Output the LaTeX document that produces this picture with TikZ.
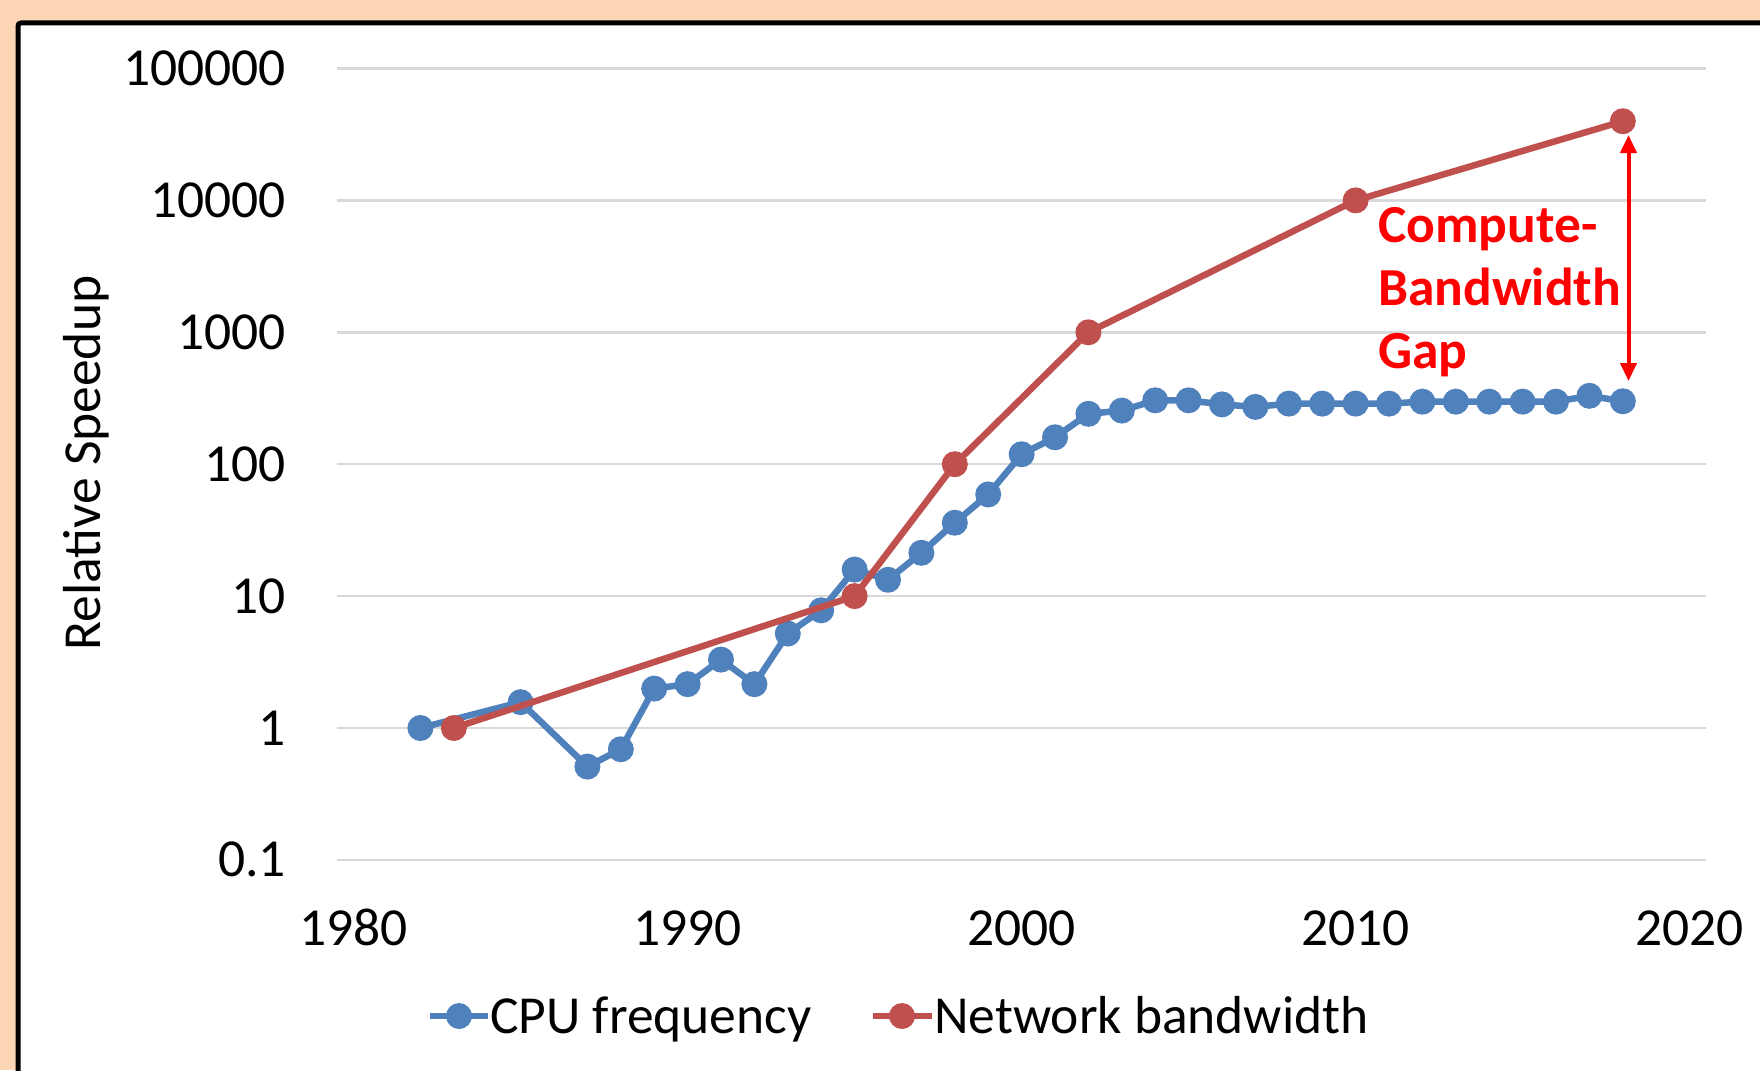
\documentclass[tikz,border=0pt]{standalone}
\usepackage{fontspec}
\setmainfont{Carlito}
\usetikzlibrary{arrows.meta}
\definecolor{peach}{HTML}{FCD5B4}
\definecolor{cpublue}{HTML}{4F81BD}
\definecolor{netred}{HTML}{C0504D}
\definecolor{gridgray}{HTML}{D9D9D9}
\begin{document}
\begin{tikzpicture}[x=1pt,y=-1pt,
  declare function={xx(\t)=353.6+33.4*(\t-1980); yy(\v)=728-131.9*log10(\v); ly(\l)=728-131.9*\l;},
  lbl/.style={font=\fontsize{53.5}{64}\selectfont, inner sep=0pt},
  gaplbl/.style={font=\fontsize{53.5}{64}\selectfont\bfseries, text=red, inner sep=0pt, anchor=base west},
  bline/.style={cpublue, line width=6.5pt, line join=round},
  rline/.style={netred, line width=6.5pt, line join=round},
  bdot/.style={circle, fill=cpublue, minimum size=26pt, inner sep=0pt},
  rdot/.style={circle, fill=netred, minimum size=26pt, inner sep=0pt},
  gridln/.style={gridgray, line width=2.5pt},
]
\useasboundingbox (0,0) rectangle (1760,1070);
\clip (0,0) rectangle (1760,1070);
\fill[peach] (0,0) rectangle (1760,1070);
\draw[line width=5pt, fill=white, rounded corners=3pt] (18,23) rectangle (1820,1130);

% grid lines and y labels
\foreach \k/\lab in {-1/0.1,0/1,1/10,2/100,3/1000,4/10000,5/100000}{
  \coordinate (gl\k) at (337,{ly(\k)});
  \coordinate (gr\k) at (1706,{ly(\k)});
  \draw[gridln] (gl\k) -- (gr\k);
  \node[lbl, anchor=base east] (yl\k) at (286,{ly(\k)+17}) {\lab};
}
% x labels
\foreach \t in {1980,1990,2000,2010,2020}{
  \node[lbl, anchor=base] (xl\t) at ({xx(\t)},945) {\t};
}
% axis title
\node[lbl, rotate=90] (ytitle) at (86,463) {Relative Speedup};

% CPU frequency data
\foreach \t/\v in {1982/1,1985/1.57,1987/0.51,1988/0.69,1989/1.99,1990/2.15,1991/3.3,1992/2.15,
  1993/5.2,1994/7.8,1995/15.9,1996/13.3,1997/21.3,1998/36,1999/59,2000/119,2001/160,
  2002/241,2003/255,2004/305,2005/305,2006/284,2007/272,2008/288,2009/288,2010/288,
  2011/288,2012/298,2013/298,2014/298,2015/298,2016/298,2017/330,2018/300}{
  \coordinate (c\t) at ({xx(\t)},{yy(\v)});
}
\draw[bline] (c1982) -- (c1985) -- (c1987) -- (c1988) -- (c1989) -- (c1990) -- (c1991)
  -- (c1992) -- (c1993) -- (c1994) -- (c1995) -- (c1996) -- (c1997) -- (c1998) -- (c1999)
  -- (c2000) -- (c2001) -- (c2002) -- (c2003) -- (c2004) -- (c2005) -- (c2006) -- (c2007)
  -- (c2008) -- (c2009) -- (c2010) -- (c2011) -- (c2012) -- (c2013) -- (c2014) -- (c2015)
  -- (c2016) -- (c2017) -- (c2018);
\foreach \t in {1982,1985,1987,1988,...,2018}{
  \node[bdot] (dc\t) at (c\t) {};
}

% Network bandwidth data (log10 values)
\foreach \t/\l in {1983/0,1995/1,1998/2,2002/3,2010/4,2018/4.6}{
  \coordinate (n\t) at ({xx(\t)},{ly(\l)});
}
\draw[rline] (n1983) -- (n1995) -- (n1998) -- (n2002) -- (n2010) -- (n2018);
\foreach \t in {1983,1995,1998,2002,2010,2018}{
  \node[rdot] (dn\t) at (n\t) {};
}

% gap annotation
\coordinate (gaptop) at (1628.5,135);
\coordinate (gapbot) at (1628.5,381);
\draw[red, line width=4pt, {Triangle[length=18pt,width=16pt]}-{Triangle[length=18pt,width=16pt]}] (gaptop) -- (gapbot);
\node[gaplbl] (gap1) at (1378,242) {Compute-};
\node[gaplbl] (gap2) at (1378,305) {Bandwidth};
\node[gaplbl] (gap3) at (1378,368) {Gap};

% legend
\coordinate (lb1) at (430,1016);
\coordinate (lb2) at (488,1016);
\draw[bline] (lb1) -- (lb2);
\node[bdot] (lbd) at (459,1016) {};
\node[lbl, anchor=base west] (lbt) at (490,1033) {CPU frequency};
\coordinate (lr1) at (873,1016);
\coordinate (lr2) at (932,1016);
\draw[rline] (lr1) -- (lr2);
\node[rdot] (lrd) at (902,1016) {};
\node[lbl, anchor=base west] (lrt) at (934,1033) {Network bandwidth};
\end{tikzpicture}
\end{document}
